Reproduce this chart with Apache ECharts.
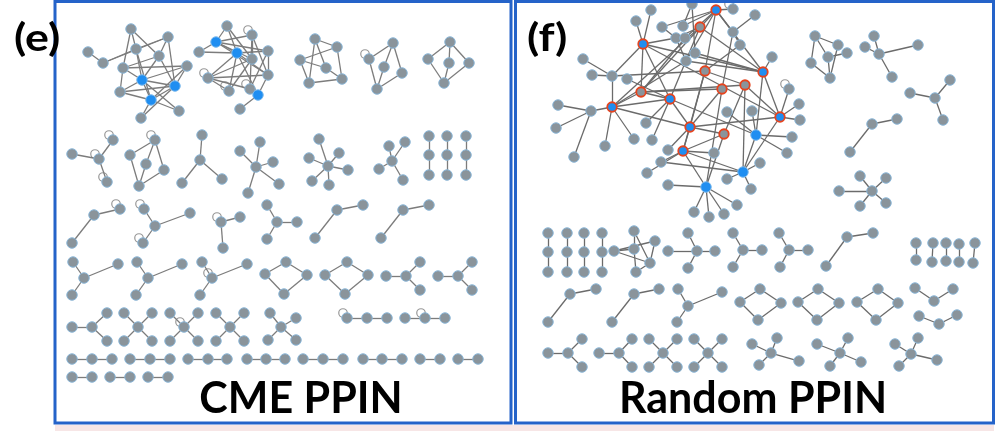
<!DOCTYPE html>
<html>
<head>
<meta charset="utf-8">
<script src="https://cdn.jsdelivr.net/npm/echarts@6/dist/echarts.min.js"></script>
<style>
  html, body { margin: 0; padding: 0; background: #ffffff; }
  #chart { width: 996px; height: 433px; }
</style>
</head>
<body>
<div id="chart"></div>
<script>
// Layout coordinates of every protein in the two interaction networks.
// kind: 0 = ordinary protein, 1 = highlighted protein, 2 = ringed hub (blue core), 3 = ringed hub (grey core)

// ---- (e) CME PPIN ----
const cmeNodes = [
  ['a1',88,52,0],['a2',103,63,0],['a3',131,29,0],['a4',136,49,0],['a5',168,37,0],['a6',123,68,0],['a7',159,56,0],
  ['a8',187,66,0],['a9',142,80,1],['a10',175,86,1],['a11',120,92,0],['a12',151,100,1],['a13',179,111,0],['a14',141,118,0],
  ['b1',227,26,0],['b2',216,42,1],['b3',252,35,0],['b4',199,52,0],['b5',237,53,1],['b6',268,51,0],['b7',252,59,0],
  ['b8',208,78,0],['b9',268,75,0],['b10',229,91,0],['b11',250,89,0],['b12',258,95,1],['b13',240,109,0],
  ['c1',315,39,0],['c2',337,47,0],['c3',300,60,0],['c4',326,68,0],['c5',309,83,0],['c6',342,79,0],
  ['d1',393,43,0],['d2',369,59,0],['d3',384,67,0],['d4',402,73,0],['d5',377,89,0],
  ['e1',450,42,0],['e2',428,59,0],['e3',449,63,0],['e4',469,63,0],['e5',444,83,0],
  ['f1',72,154,0],['f2',99,159,0],['f3',113,140,0],['f4',107,182,0],
  ['g1',155,140,0],['g2',130,155,0],['g3',146,164,0],['g4',164,170,0],['g5',139,186,0],
  ['h1',202,135,0],['h2',200,160,0],['h3',182,183,0],['h4',222,179,0],
  ['i0',256,167,0],['i1',240,151,0],['i2',260,142,0],['i3',273,162,0],['i4',248,193,0],['i5',279,184,0],
  ['j0',328,166,0],['j1',319,139,0],['j2',309,158,0],['j3',339,153,0],['j4',348,170,0],['j5',329,185,0],['j6',312,181,0],
  ['k0',392,161,0],['k1',389,146,0],['k2',405,142,0],['k3',379,169,0],['k4',403,180,0],
  ['m1',72,243,0],['m2',94,215,0],['m3',120,209,0],
  ['n1',144,209,0],['n2',155,226,0],['n3',190,213,0],['n4',143,243,0],
  ['o1',221,222,0],['o2',240,217,0],['o3',223,248,0],
  ['p0',277,222,0],['p1',267,205,0],['p2',267,239,0],['p3',297,222,0],
  ['q1',337,210,0],['q2',363,205,0],['q3',315,238,0],
  ['r1',403,210,0],['r2',429,205,0],['r3',381,238,0],
  ['s0',84,278,0],['s1',73,262,0],['s2',118,264,0],['s3',72,295,0],
  ['t0',148,278,0],['t1',137,262,0],['t2',182,264,0],['t3',136,295,0],
  ['u0',212,278,0],['u1',202,262,0],['u2',247,264,0],['u3',200,295,0],
  ['v1',265,274,0],['v2',286,262,0],['v3',307,275,0],['v4',284,294,0],
  ['w1',325,275,0],['w2',347,262,0],['w3',368,275,0],['w4',345,294,0],
  ['x0',406,276,0],['x1',386,276,0],['x2',420,262,0],['x3',420,290,0],
  ['y0',458,276,0],['y1',438,276,0],['y2',472,262,0],['y3',472,290,0],
  ['z0',92,327,0],['z1',72,327,0],['z2',107,313,0],['z3',107,341,0],
  ['aa0',138,327,0],['aa1',124,313,0],['aa2',152,313,0],['aa3',124,341,0],['aa4',152,341,0],
  ['ab0',184,327,0],['ab1',170,313,0],['ab2',198,313,0],['ab3',170,341,0],['ab4',198,341,0],
  ['ac0',230,327,0],['ac1',216,313,0],['ac2',244,313,0],['ac3',216,341,0],['ac4',244,341,0],
  ['ad0',281,327,0],['ad1',270,313,0],['ad2',296,318,0],['ad3',268,340,0],['ad4',296,340,0]
];

const cmeLinks = [
  ['a1','a2'],['a2','a4'],['a2','a5'],['a3','a4'],['a3','a6'],['a3','a7'],['a4','a9'],['a4','a12'],['a5','a7'],
  ['a5','a10'],['a6','a9'],['a6','a7'],['a6','a8'],['a7','a9'],['a7','a10'],['a8','a9'],['a8','a10'],['a9','a10'],
  ['a9','a11'],['a9','a12'],['a9','a13'],['a10','a11'],['a10','a12'],['a11','a12'],['a12','a13'],['a12','a14'],
  ['a10','a14'],['a4','a5'],['a11','a6'],['a8','a12'],
  ['b1','b2'],['b1','b5'],['b1','b7'],['b2','b3'],['b2','b5'],['b2','b4'],['b2','b6'],['b2','b9'],['b3','b7'],
  ['b3','b11'],['b4','b5'],['b5','b6'],['b5','b8'],['b5','b9'],['b5','b10'],['b5','b12'],['b6','b9'],['b7','b8'],
  ['b7','b10'],['b8','b9'],['b8','b11'],['b9','b12'],['b11','b6'],['b12','b13'],['b8','b10'],['b2','b7'],['b3','b9'],
  ['c1','c2'],['c1','c5'],['c1','c4'],['c2','c3'],['c3','c4'],['c3','c5'],['c2','c6'],['c4','c6'],['c5','c6'],
  ['d1','d2'],['d1','d3'],['d1','d4'],['d2','d5'],['d3','d5'],['d4','d5'],
  ['e1','e2'],['e1','e3'],['e1','e4'],['e2','e5'],['e3','e5'],['e4','e5'],
  ['f1','f2'],['f2','f3'],['f2','f4'],
  ['g1','g2'],['g1','g3'],['g1','g4'],['g2','g5'],['g3','g5'],['g4','g5'],
  ['h1','h2'],['h2','h3'],['h2','h4'],
  ['i0','i1'],['i0','i2'],['i0','i3'],['i0','i4'],['i0','i5'],
  ['j0','j1'],['j0','j2'],['j0','j3'],['j0','j4'],['j0','j5'],['j0','j6'],
  ['k0','k1'],['k0','k2'],['k0','k3'],['k0','k4'],
  ['m1','m2'],['m2','m3'],
  ['n2','n1'],['n2','n3'],['n2','n4'],
  ['o1','o2'],['o1','o3'],
  ['p0','p1'],['p0','p2'],['p0','p3'],
  ['q1','q2'],['q1','q3'],
  ['r1','r2'],['r1','r3'],
  ['s0','s1'],['s0','s2'],['s0','s3'],
  ['t0','t1'],['t0','t2'],['t0','t3'],
  ['u0','u1'],['u0','u2'],['u0','u3'],
  ['v1','v2'],['v2','v3'],['v3','v4'],['v4','v1'],
  ['w1','w2'],['w2','w3'],['w3','w4'],['w4','w1'],
  ['x0','x1'],['x0','x2'],['x0','x3'],
  ['y0','y1'],['y0','y2'],['y0','y3'],
  ['z0','z1'],['z0','z2'],['z0','z3'],
  ['aa0','aa1'],['aa0','aa2'],['aa0','aa3'],['aa0','aa4'],
  ['ab0','ab1'],['ab0','ab2'],['ab0','ab3'],['ab0','ab4'],
  ['ac0','ac1'],['ac0','ac2'],['ac0','ac3'],['ac0','ac4'],
  ['ad0','ad1'],['ad0','ad2'],['ad0','ad3'],['ad0','ad4']
];

// simple linear complexes: each inner list is one chain, read left to right (or top to bottom)
const cmeChains = [
  [[429,136],[429,155],[429,175]], [[447,136],[447,155],[447,175]], [[466,136],[466,155],[466,175]],
  [[347,318],[367,318],[387,318]], [[405,318],[425,318],[445,318]],
  [[72,359],[92,359],[112,359]], [[130,359],[150,359],[170,359]], [[188,359],[208,359],[227,359]],
  [[247,359],[266,359],[285,359]], [[303,359],[323,359],[343,359]], [[363,359],[382,359],[402,359]],
  [[420,359],[440,359]], [[458,359],[478,359]],
  [[72,377],[92,377]], [[110,377],[130,377]], [[148,377],[168,377]]
];

// proteins that interact with themselves
const cmeLoops = ['b3','b8','b10','b11','d2','f2','f3','f4','g1','m3','n1','n4','o1','u0','ab0','chain3_0','chain4_1'];

// ---- (f) Random PPIN ----
const rndNodes = [
  ['R1',651,10,0],['R2',636,21,0],['R3',692,4,0],['R4',716,10,2],['R5',733,9,0],['R6',755,15,0],['R7',683,26,0],
  ['R8',700,27,3],['R9',662,27,0],['R10',733,32,0],['R11',643,44,2],['R12',676,38,0],['R13',685,38,0],['R14',740,45,0],
  ['R15',695,53,0],['R16',686,61,0],['R17',772,57,0],['R18',583,59,0],['R19',592,75,0],['R20',612,76,0],['R21',627,79,0],
  ['R22',705,71,3],['R23',763,72,2],['R24',641,92,3],['R25',722,89,3],['R26',745,85,3],['R27',789,89,0],['R28',670,99,2],
  ['R29',558,105,0],['R30',591,111,0],['R31',612,107,2],['R32',727,112,0],['R33',752,111,0],['R34',780,117,2],
  ['R35',799,104,0],['R36',800,120,0],['R37',556,128,0],['R38',646,123,0],['R39',690,127,2],['R40',724,134,3],
  ['R41',756,135,1],['R42',792,137,0],['R43',605,146,0],['R44',634,139,0],['R45',652,140,0],['R46',683,151,2],
  ['R47',668,150,0],['R48',714,153,0],['R49',787,153,0],['R50',574,157,0],['R51',661,162,0],['R52',760,163,0],
  ['R53',743,172,1],['R54',647,173,0],['R55',727,179,0],['R56',668,185,0],['R57',706,187,1],['R58',751,189,0],
  ['R59',737,205,0],['R60',694,212,0],['R61',709,217,0],['R62',724,214,0],
  ['P1',815,36,0],['P2',838,45,0],['P3',847,53,0],['P4',828,57,0],['P5',811,63,0],['P6',830,78,0],
  ['Q1',874,36,0],['Q2',865,47,0],['Q3',879,54,0],['Q4',918,45,0],['Q5',892,77,0],
  ['S1',910,93,0],['S2',935,98,0],['S3',950,80,0],['S4',943,120,0],
  ['T1',897,119,0],['T2',872,124,0],['T3',850,152,0],
  ['U0',872,191,0],['U1',839,191,0],['U2',860,176,0],['U3',886,178,0],['U4',860,206,0],['U5',886,203,0],
  ['W1',634,231,0],['W2',655,241,0],['W3',614,251,0],['W4',634,249,0],['W5',650,263,0],['W6',636,272,0],
  ['X0',697,251,0],['X1',668,251,0],['X2',715,251,0],['X3',688,233,0],['X4',688,268,0],
  ['Y0',743,250,0],['Y1',733,233,0],['Y2',733,267,0],['Y3',762,250,0],
  ['Z0',789,250,0],['Z1',779,233,0],['Z2',808,250,0],['Z3',780,267,0],
  ['G0',688,306,0],['G1',678,289,0],['G2',722,292,0],['G3',677,322,0],
  ['D1',740,302,0],['D2',760,289,0],['D3',781,303,0],['D4',758,320,0],
  ['E1',798,302,0],['E2',818,289,0],['E3',839,303,0],['E4',817,320,0],
  ['H1',857,302,0],['H2',878,289,0],['H3',898,303,0],['H4',876,320,0],
  ['F0',568,353,0],['F1',548,353,0],['F2',582,339,0],['F3',582,367,0],
  ['J0',619,353,0],['J1',599,353,0],['J2',632,339,0],['J3',632,367,0],
  ['L0',663,353,0],['L1',649,339,0],['L2',677,339,0],['L3',649,367,0],['L4',677,367,0],
  ['M0',708,353,0],['M1',694,339,0],['M2',722,339,0],['M3',694,367,0],['M4',722,367,0],
  ['K0',771,353,0],['K1',752,344,0],['K2',777,338,0],['K3',759,365,0],['K4',799,361,0],
  ['N0',840,353,0],['N1',817,344,0],['N2',848,338,0],['N3',830,366,0],['N4',861,362,0],
  ['O0',911,354,0],['O1',895,344,0],['O2',918,338,0],['O3',899,366,0],['O4',937,360,0]
];

const rndLinks = [
  ['R1','R11'],['R2','R11'],['R3','R7'],['R3','R15'],['R4','R5'],['R4','R7'],['R4','R9'],['R4','R10'],['R4','R13'],
  ['R4','R16'],['R4','R22'],['R4','R24'],['R4','R23'],['R6','R10'],['R8','R12'],['R8','R23'],['R8','R28'],['R8','R31'],
  ['R10','R14'],['R10','R25'],['R11','R12'],['R11','R20'],['R11','R23'],['R11','R34'],['R11','R28'],['R11','R24'],
  ['R13','R24'],['R14','R22'],['R15','R23'],['R16','R23'],['R16','R31'],['R17','R23'],['R18','R20'],['R19','R20'],
  ['R20','R31'],['R20','R22'],['R21','R28'],['R22','R39'],['R22','R46'],['R22','R26'],['R23','R41'],['R23','R34'],
  ['R24','R31'],['R24','R25'],['R24','R28'],['R24','R26'],['R25','R39'],['R25','R57'],['R26','R40'],['R26','R53'],
  ['R26','R34'],['R27','R34'],['R28','R31'],['R28','R39'],['R28','R41'],['R28','R45'],['R31','R30'],['R31','R43'],
  ['R31','R44'],['R31','R39'],['R30','R29'],['R30','R37'],['R30','R50'],['R32','R41'],['R33','R41'],['R34','R35'],
  ['R34','R36'],['R34','R39'],['R34','R53'],['R38','R28'],['R39','R46'],['R39','R40'],['R39','R47'],['R40','R57'],
  ['R40','R46'],['R41','R42'],['R41','R49'],['R41','R53'],['R46','R48'],['R46','R53'],['R46','R57'],['R46','R51'],
  ['R51','R53'],['R53','R52'],['R53','R55'],['R53','R58'],['R57','R56'],['R57','R60'],['R57','R61'],['R57','R62'],
  ['R57','R59'],['R54','R46'],['R12','R16'],['R9','R12'],
  ['P1','P2'],['P1','P5'],['P1','P4'],['P4','P3'],['P4','P6'],['P2','P6'],['P5','P6'],
  ['Q3','Q1'],['Q3','Q2'],['Q3','Q4'],['Q3','Q5'],
  ['S2','S1'],['S2','S3'],['S2','S4'],
  ['T1','T2'],['T2','T3'],
  ['U0','U1'],['U0','U2'],['U0','U3'],['U0','U4'],['U0','U5'],
  ['W1','W4'],['W4','W6'],['W1','W5'],['W3','W2'],['W3','W5'],['W2','W5'],['W5','W6'],['W3','W4'],
  ['X0','X1'],['X0','X2'],['X0','X3'],['X0','X4'],
  ['Y0','Y1'],['Y0','Y2'],['Y0','Y3'],
  ['Z0','Z1'],['Z0','Z2'],['Z0','Z3'],
  ['G0','G1'],['G0','G2'],['G0','G3'],
  ['D1','D2'],['D2','D3'],['D3','D4'],['D4','D1'],
  ['E1','E2'],['E2','E3'],['E3','E4'],['E4','E1'],
  ['H1','H2'],['H2','H3'],['H3','H4'],['H4','H1'],
  ['F0','F1'],['F0','F2'],['F0','F3'],
  ['J0','J1'],['J0','J2'],['J0','J3'],
  ['L0','L1'],['L0','L2'],['L0','L3'],['L0','L4'],
  ['M0','M1'],['M0','M2'],['M0','M3'],['M0','M4'],
  ['K0','K1'],['K0','K2'],['K0','K3'],['K0','K4'],
  ['N0','N1'],['N0','N2'],['N0','N3'],['N0','N4'],
  ['O0','O1'],['O0','O2'],['O0','O3'],['O0','O4']
];

const rndChains = [
  [[548,233],[548,252],[548,272]], [[567,233],[567,252],[567,272]],
  [[584,233],[584,252],[584,272]], [[602,233],[602,252],[602,272]],
  [[826,266],[847,237],[873,233]],
  [[916,243],[916,260]], [[933,243],[932,262]], [[946,243],[946,261]], [[959,244],[959,262]], [[975,243],[973,263]],
  [[548,322],[570,294],[596,289]], [[612,322],[634,294],[659,289]],
  [[915,288],[934,301],[953,289]], [[919,316],[939,324],[957,315]]
];

const rndLoops = ['R5','R27'];

// ---- styling ----
const GREY = '#8a949b';
const BLUE = '#1f8ef1';
const RING = '#e6431d';
const KIND_STYLE = {
  0: { color: GREY, borderColor: '#8ab6d8', borderWidth: 1 },
  1: { color: BLUE, borderColor: '#7ab8ec', borderWidth: 1 },
  2: { color: BLUE, borderColor: RING, borderWidth: 1.8 },
  3: { color: GREY, borderColor: RING, borderWidth: 1.8 }
};

// expand chains into named nodes + consecutive links
function withChains(nodes, links, chains, prefix) {
  const n = nodes.slice(), l = links.slice();
  chains.forEach((chain, ci) => {
    chain.forEach((pt, pi) => {
      n.push([prefix + ci + '_' + pi, pt[0], pt[1], 0]);
      if (pi > 0) l.push([prefix + ci + '_' + (pi - 1), prefix + ci + '_' + pi]);
    });
  });
  return { nodes: n, links: l };
}

const cme = withChains(cmeNodes, cmeLinks, cmeChains, 'chain');
const rnd = withChains(rndNodes, rndLinks, rndChains, 'rchain');

function graphSeries(g, edgeColor) {
  return {
    type: 'graph',
    coordinateSystem: 'cartesian2d',
    symbol: 'circle',
    symbolSize: 10.5,
    data: g.nodes.map(([name, x, y, k]) => ({
      name, value: [x, y], itemStyle: KIND_STYLE[k], symbolSize: k >= 2 ? 9.5 : 10.5
    })),
    links: g.links.map(([s, t]) => ({ source: s, target: t })),
    lineStyle: { color: edgeColor, width: 1.3, opacity: 1, curveness: 0 },
    label: { show: false },
    emphasis: { disabled: true },
    silent: true,
    animation: false,
    z: 3
  };
}

function loopSeries(g, loops) {
  const pos = {};
  g.nodes.forEach(n => { pos[n[0]] = [n[1], n[2]]; });
  return {
    type: 'scatter',
    data: loops.map(name => pos[name]),
    symbol: 'circle',
    symbolSize: 8.5,
    symbolOffset: [-4, -5],
    itemStyle: { color: 'rgba(0,0,0,0)', borderColor: '#7d7d7d', borderWidth: 1.2 },
    silent: true,
    animation: false,
    z: 2
  };
}

const chart = echarts.init(document.getElementById('chart'), null, { renderer: 'canvas' });

const FRAME = '#2563c9';
const TITLE_FONT = 'bold 43px Lato, "Open Sans", sans-serif';
const TAG_FONT = 'bold 38px Lato, "Open Sans", sans-serif';

chart.setOption({
  backgroundColor: '#ffffff',
  animation: false,
  grid: { left: 0, right: 0, top: 0, bottom: 0 },
  xAxis: { type: 'value', min: 0, max: 996, show: false },
  yAxis: { type: 'value', min: 0, max: 433, inverse: true, show: false },
  series: [
    loopSeries(cme, cmeLoops),
    loopSeries(rnd, rndLoops),
    graphSeries(cme, '#7c7c7c'),
    graphSeries(rnd, '#6b6b6b')
  ],
  graphic: [
    { type: 'rect', z: 0, shape: { x: 55, y: 425, width: 939, height: 6 }, style: { fill: '#f7e6e6' }, silent: true },
    { type: 'rect', z: 10, shape: { x: 55, y: 1.5, width: 456, height: 421.5 }, style: { fill: 'none', stroke: FRAME, lineWidth: 3 }, silent: true },
    { type: 'rect', z: 10, shape: { x: 515.5, y: 1.5, width: 478, height: 421.5 }, style: { fill: 'none', stroke: FRAME, lineWidth: 3 }, silent: true },
    { type: 'text', z: 20, x: 14, y: 38.5, scaleX: 1.18, style: { text: '(e)', x: 0, y: 0, font: TAG_FONT, fill: '#000', align: 'left', verticalAlign: 'middle' }, silent: true },
    { type: 'text', z: 20, x: 527, y: 38.5, scaleX: 1.18, style: { text: '(f)', x: 0, y: 0, font: TAG_FONT, fill: '#000', align: 'left', verticalAlign: 'middle' }, silent: true },
    { type: 'text', z: 20, style: { text: 'CME PPIN', x: 301, y: 399, font: TITLE_FONT, fill: '#000', align: 'center', verticalAlign: 'middle' }, silent: true },
    { type: 'text', z: 20, style: { text: 'Random PPIN', x: 753, y: 399, font: TITLE_FONT, fill: '#000', align: 'center', verticalAlign: 'middle' }, silent: true }
  ]
});
</script>
</body>
</html>
